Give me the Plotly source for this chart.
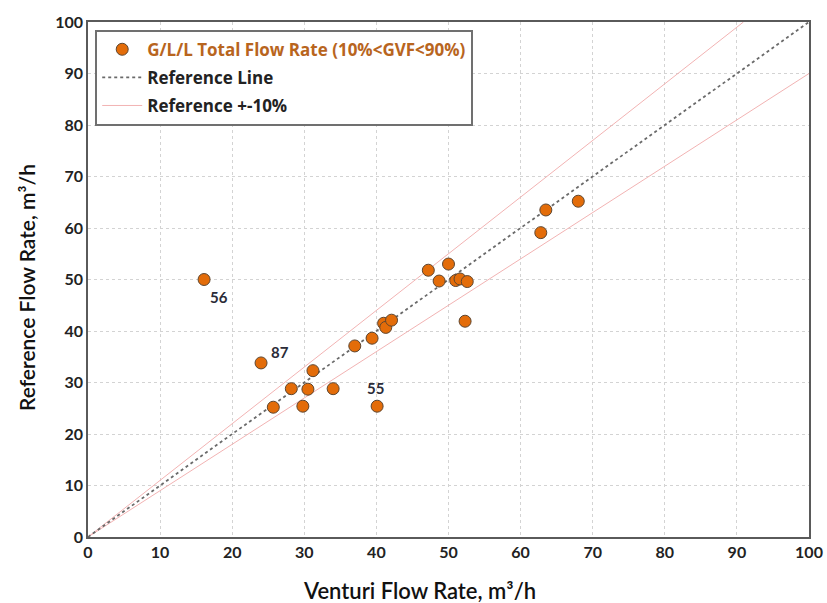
import plotly.graph_objects as go

venturi = [16.1, 24.0, 25.7, 28.2, 29.8, 30.5, 31.2, 34.0, 37.0, 39.4, 40.1, 41.0,
           41.3, 42.1, 47.2, 48.7, 50.0, 51.0, 51.6, 52.6, 52.3, 62.8, 63.5, 68.0]
reference = [50.0, 33.8, 25.2, 28.8, 25.4, 28.7, 32.3, 28.8, 37.1, 38.6, 25.4, 41.5,
             40.7, 42.1, 51.8, 49.7, 53.0, 49.8, 50.1, 49.6, 41.9, 59.1, 63.5, 65.2]
label_text = ["56", "87", "55"]
label_x = [18.2, 26.6, 39.9]
label_y = [46.6, 35.9, 28.9]
ref_x = [0, 100]
ref_y = [0, 100]
upper_x = [0, 100 / 1.1]
upper_y = [0, 100]
lower_x = [0, 100]
lower_y = [0, 90]
ticks = list(range(0, 101, 10))

font = "Lato, 'Open Sans', sans-serif"
fig = go.Figure()
fig.add_trace(go.Scatter(
    x=upper_x, y=upper_y, mode="lines", name="Reference +-10%",
    line=dict(color="#F2B3B3", width=1), legendrank=3, legendgroup="c"))
fig.add_trace(go.Scatter(
    x=lower_x, y=lower_y, mode="lines", showlegend=False,
    line=dict(color="#F2B3B3", width=1), legendgroup="c"))
fig.add_trace(go.Scatter(
    x=ref_x, y=ref_y, mode="lines", name="Reference Line",
    line=dict(color="#6A6A6A", width=1.8, dash="3px,3px"), legendrank=2, legendgroup="b"))
fig.add_trace(go.Scatter(
    x=venturi, y=reference, mode="markers",
    name="<span style='color:#B8651E'>G/L/L Total Flow Rate (10%&lt;GVF&lt;90%)</span>",
    marker=dict(color="#E36C09", size=12, line=dict(color="#5E4630", width=1)),
    legendrank=1, legendgroup="a"))

for t, x, y in zip(label_text, label_x, label_y):
    fig.add_annotation(x=x, y=y, text=t, showarrow=False,
                       font=dict(size=15, color="#2B2B38", family=font, weight="bold"))

# axis titles as annotations for exact placement
fig.add_annotation(xref="paper", yref="paper", x=0.46, y=-0.103, xanchor="center",
                   yanchor="middle", text="Venturi Flow Rate, m³/h", showarrow=False,
                   font=dict(size=22, color="#111111", family=font, weight=600))
fig.add_annotation(xref="paper", yref="paper", x=-0.085, y=0.485, xanchor="center",
                   yanchor="middle", text="Reference Flow Rate, m³/h", showarrow=False,
                   textangle=-90,
                   font=dict(size=21, color="#111111", family=font, weight=600))

axis_common = dict(
    range=[0, 100], tickvals=ticks, showgrid=True, gridcolor="#D3D3D3",
    griddash="3px,3px", gridwidth=1, showline=True, linecolor="#5A5A5A", linewidth=1.5,
    mirror=True, ticks="", zeroline=False, automargin=False,
    tickfont=dict(size=16, color="#222222", family=font, weight="bold"),
)
fig.update_xaxes(**axis_common)
fig.update_yaxes(**axis_common)

fig.update_layout(
    width=827, height=603, plot_bgcolor="white", paper_bgcolor="white",
    margin=dict(l=88, r=18, t=22, b=66),
    font=dict(family=font),
    legend=dict(x=0.01, y=0.985, xanchor="left", yanchor="top",
                bgcolor="white", bordercolor="#707070", borderwidth=2,
                font=dict(size=17, color="#222222", family="'Open Sans', sans-serif",
                          weight="bold"),
                tracegroupgap=3, itemwidth=40),
)
fig.write_html("out.html")
